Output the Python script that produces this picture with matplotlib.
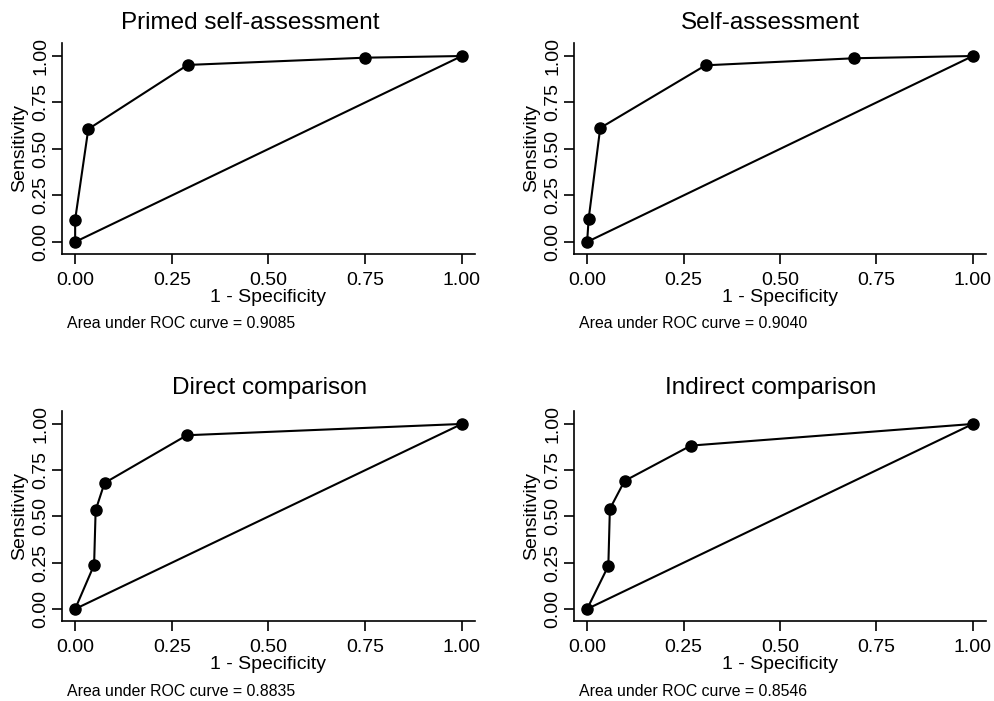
import matplotlib
matplotlib.use("Agg")
import matplotlib.pyplot as plt

plt.rcParams['font.family'] = ['Liberation Sans', 'DejaVu Sans']

titles = ['Primed self-assessment', 'Self-assessment',
          'Direct comparison', 'Indirect comparison']
auc = ['0.9085', '0.9040', '0.8835', '0.8546']

# 1 - specificity / sensitivity for each ROC curve
fpr = [
    [0.0, 0.0, 0.034, 0.291, 0.75, 1.0],
    [0.0, 0.004, 0.034, 0.307, 0.693, 1.0],
    [0.0, 0.049, 0.053, 0.076, 0.289, 1.0],
    [0.0, 0.055, 0.059, 0.097, 0.269, 1.0],
]
tpr = [
    [0.0, 0.12, 0.607, 0.952, 0.991, 1.0],
    [0.0, 0.124, 0.613, 0.95, 0.988, 1.0],
    [0.0, 0.238, 0.534, 0.681, 0.939, 1.0],
    [0.0, 0.233, 0.541, 0.692, 0.883, 1.0],
]
ticks = [0, 0.25, 0.5, 0.75, 1.0]
tick_labels = ['0.00', '0.25', '0.50', '0.75', '1.00']

W, H = 995, 701
fig = plt.figure(figsize=(W / 100, H / 100), dpi=100)

# pixel boxes (left, right, top, bottom) of each plot region
boxes = [(62, 475, 43, 254), (574, 986, 43, 254),
         (62, 475, 411, 621), (574, 986, 411, 621)]
title_x = [250, 770, 270, 771]
title_y = [23, 23, 388, 388]

for i in range(4):
    l, r, t, b = boxes[i]
    ax = fig.add_axes([l / W, 1 - b / H, (r - l) / W, (b - t) / H])
    ax.plot([0, 1], [0, 1], color='black', lw=1.5)
    ax.plot(fpr[i], tpr[i], color='black', lw=1.5, marker='o', ms=8)
    ax.set_xlim(-0.034, 1.034)
    ax.set_ylim(-0.065, 1.07)
    ax.spines['top'].set_visible(False)
    ax.spines['right'].set_visible(False)
    ax.spines['left'].set_linewidth(1.2)
    ax.spines['bottom'].set_linewidth(1.2)
    ax.set_xticks(ticks)
    ax.set_xticklabels(tick_labels)
    ax.set_yticks(ticks)
    ax.set_yticklabels(tick_labels, rotation=90, va='center')
    ax.tick_params(direction='out', length=7, width=1.2, labelsize=14)
    ax.tick_params(axis='x', pad=6)
    ax.tick_params(axis='y', pad=2)
    ax.set_xlabel('1 - Specificity', fontsize=14, labelpad=0)
    ax.set_ylabel('Sensitivity', fontsize=14, labelpad=3)
    fig.text(title_x[i] / W, 1 - title_y[i] / H, titles[i],
             fontsize=17.5, ha='center', va='center')
    fig.text((l + 5) / W, 1 - (b + 70) / H,
             'Area under ROC curve = ' + auc[i], fontsize=11.4,
             ha='left', va='center')

fig.savefig('out.png', dpi=100, facecolor='white')
